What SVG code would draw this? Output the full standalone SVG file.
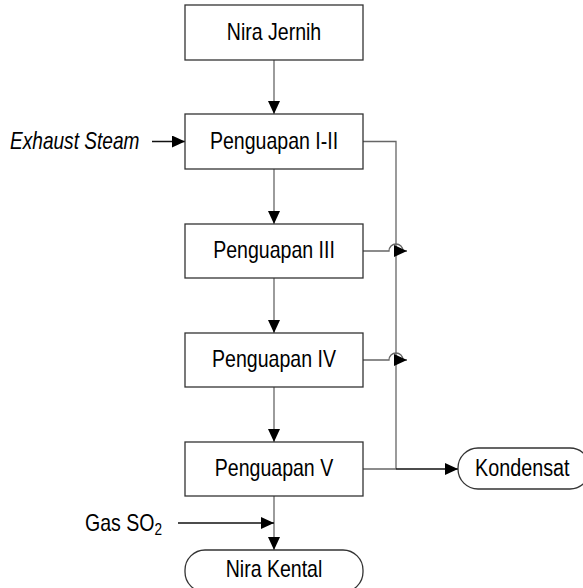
<svg xmlns="http://www.w3.org/2000/svg" width="583" height="588" viewBox="0 0 583 588">
<defs>
<style>
.box{fill:#fff;stroke:#333;stroke-width:1.3}
.ln{fill:none;stroke:#666;stroke-width:1.3}
.lb{fill:none;stroke:#111;stroke-width:1.3}
text{font-family:"Liberation Sans",Arial,sans-serif;font-size:23px;fill:#000}
.c{text-anchor:middle}
</style>
<marker id="ah" markerWidth="13" markerHeight="12" refX="13" refY="6" orient="auto" markerUnits="userSpaceOnUse">
<path d="M0,0 L13,6 L0,12 z" fill="#000"/>
</marker>
</defs>
<rect width="583" height="588" fill="#fff"/>
<g id="connectors">
<path class="ln" d="M274,60 V114" marker-end="url(#ah)"/>
<path class="ln" d="M274,169 V224" marker-end="url(#ah)"/>
<path class="ln" d="M274,278 V333" marker-end="url(#ah)"/>
<path class="ln" d="M274,387 V442" marker-end="url(#ah)"/>
<path class="ln" d="M274,496 V550" marker-end="url(#ah)"/>
<path class="lb" d="M152,141.5 H185" marker-end="url(#ah)"/>
<path class="ln" d="M363,141.5 H396 V469"/>
<path class="ln" d="M363,251 H389 A7,7 0 0 1 403,251 H407" marker-end="url(#ah)"/>
<path class="ln" d="M363,360 H389 A7,7 0 0 1 403,360 H407" marker-end="url(#ah)"/>
<path class="ln" d="M363,469 H396"/>
<path class="lb" d="M396,469 H458" marker-end="url(#ah)"/>
<path class="lb" d="M178,523 H274" marker-end="url(#ah)"/>
</g>
<g id="nira-jernih">
<rect class="box" x="185" y="5" width="178" height="55"/>
<text class="c" transform="translate(274,39.5) scale(0.85,1)">Nira Jernih</text>
</g>
<g id="penguapan-1-2">
<rect class="box" x="185" y="114" width="178" height="55"/>
<text class="c" transform="translate(274,149) scale(0.85,1)">Penguapan I-II</text>
</g>
<g id="penguapan-3">
<rect class="box" x="185" y="224" width="178" height="54"/>
<text class="c" transform="translate(274,258.3) scale(0.85,1)">Penguapan III</text>
</g>
<g id="penguapan-4">
<rect class="box" x="185" y="333" width="178" height="54"/>
<text class="c" transform="translate(274,367.3) scale(0.85,1)">Penguapan IV</text>
</g>
<g id="penguapan-5">
<rect class="box" x="185" y="442" width="178" height="54"/>
<text class="c" transform="translate(274,476.3) scale(0.85,1)">Penguapan V</text>
</g>
<g id="exhaust-steam">
<text transform="translate(10,149) scale(0.83,1)" font-style="italic">Exhaust Steam</text>
</g>
<g id="gas-so2">
<text transform="translate(85,531) scale(0.85,1)">Gas SO<tspan font-size="16" dy="4">2</tspan></text>
</g>
<g id="kondensat">
<rect class="box" x="458" y="448" width="132" height="41" rx="20" ry="20"/>
<text transform="translate(475,475.5) scale(0.86,1)">Kondensat</text>
</g>
<g id="nira-kental">
<rect class="box" x="185" y="550" width="178" height="42" rx="20" ry="20"/>
<text class="c" transform="translate(274,577) scale(0.85,1)">Nira Kental</text>
</g>
</svg>
